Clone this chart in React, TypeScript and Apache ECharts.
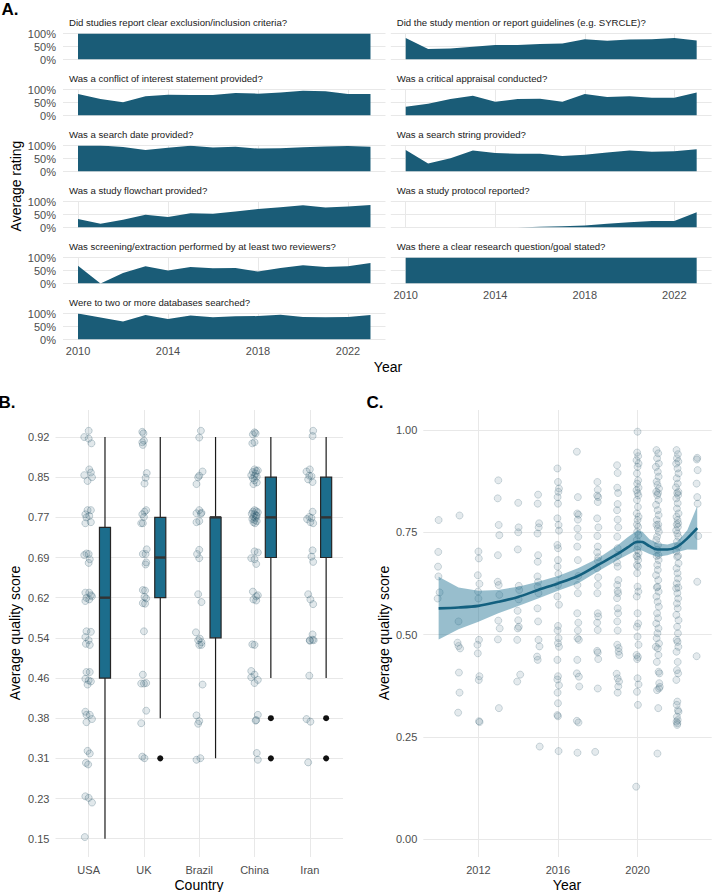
import React, { useEffect, useRef } from "react";
import * as echarts from "echarts";

const FONT = "'Liberation Sans', Arial, Helvetica, sans-serif";

// ---------- Panel A ----------
const years = [2010, 2011, 2012, 2013, 2014, 2015, 2016, 2017, 2018, 2019, 2020, 2021, 2022, 2023];
const yearTicks = [2010, 2014, 2018, 2022];
const percentTicks = [0, 0.5, 1];

const leftTitles = [
  "Did studies report clear exclusion/inclusion criteria?",
  "Was a conflict of interest statement provided?",
  "Was a search date provided?",
  "Was a study flowchart provided?",
  "Was screening/extraction performed by at least two reviewers?",
  "Were to two or more databases searched?",
];
const rightTitles = [
  "Did the study mention or report guidelines (e.g. SYRCLE)?",
  "Was a critical appraisal conducted?",
  "Was a search string provided?",
  "Was a study protocol reported?",
  "Was there a clear research question/goal stated?",
];

const exclusionCriteria = [1, 1, 1, 1, 1, 1, 1, 1, 1, 1, 1, 1, 1, 1];
const conflictOfInterest = [0.83, 0.63, 0.51, 0.74, 0.8, 0.79, 0.79, 0.87, 0.84, 0.88, 0.95, 0.93, 0.83, 0.83];
const searchDate = [1.0, 1.0, 0.94, 0.83, 0.91, 0.99, 0.92, 0.95, 0.88, 0.89, 0.93, 0.96, 0.98, 0.95];
const studyFlowchart = [0.33, 0.14, 0.3, 0.49, 0.4, 0.55, 0.53, 0.62, 0.71, 0.78, 0.86, 0.77, 0.81, 0.87];
const twoReviewers = [0.68, 0.0, 0.4, 0.66, 0.5, 0.63, 0.59, 0.6, 0.46, 0.6, 0.7, 0.63, 0.66, 0.79];
const twoDatabases = [1.0, 0.85, 0.69, 0.94, 0.79, 0.92, 0.86, 0.89, 0.9, 0.95, 0.87, 0.86, 0.87, 0.94];
const reportGuidelines = [0.83, 0.4, 0.42, 0.49, 0.56, 0.56, 0.6, 0.62, 0.78, 0.72, 0.77, 0.78, 0.83, 0.73];
const criticalAppraisal = [0.34, 0.45, 0.63, 0.76, 0.53, 0.63, 0.64, 0.53, 0.83, 0.71, 0.74, 0.68, 0.68, 0.88];
const searchString = [0.83, 0.31, 0.51, 0.81, 0.71, 0.68, 0.68, 0.6, 0.64, 0.73, 0.81, 0.76, 0.78, 0.86];
const studyProtocol = [0, 0, 0, 0, 0, 0, 0.03, 0.05, 0.08, 0.14, 0.2, 0.25, 0.25, 0.59];
const researchQuestion = [1, 1, 1, 1, 1, 1, 1, 1, 1, 1, 1, 1, 1, 1];

const leftValues = [exclusionCriteria, conflictOfInterest, searchDate, studyFlowchart, twoReviewers, twoDatabases];
const rightValues = [reportGuidelines, criticalAppraisal, searchString, studyProtocol, researchQuestion];

// ---------- Panel B ----------
const countries = ["USA", "UK", "Brazil", "China", "Iran"];
const scoreTicks = [0.1538, 0.2308, 0.3077, 0.3846, 0.4615, 0.5385, 0.6154, 0.6923, 0.7692, 0.8462, 0.9231];
const boxLow = [0.1538, 0.3846, 0.3077, 0.4615, 0.4615];
const boxQ1 = [0.4615, 0.6154, 0.5385, 0.6923, 0.6923];
const boxMedian = [0.6154, 0.6923, 0.7692, 0.7692, 0.7692];
const boxQ3 = [0.75, 0.7692, 0.7692, 0.8462, 0.8462];
const boxHigh = [0.9231, 0.9231, 0.9231, 0.9231, 0.9231];
const outlierCountry = [1, 3, 3, 4, 4];
const outlierScore = [0.3077, 0.3846, 0.3077, 0.3846, 0.3077];

// [jitter offset in category units, score]
const usaPoints = [
  [0.0, 0.935], [-0.08, 0.923], [0.0, 0.92], [0.05, 0.911],
  [0.01, 0.861], [0.04, 0.855], [-0.08, 0.85], [0.06, 0.846], [-0.02, 0.839],
  [-0.02, 0.783], [0.04, 0.783], [-0.06, 0.775], [0.01, 0.772], [-0.04, 0.769], [-0.06, 0.758], [0.04, 0.76],
  [-0.04, 0.7], [0.0, 0.699], [-0.08, 0.697], [0.02, 0.689], [0.0, 0.682],
  [-0.06, 0.625], [0.01, 0.625], [0.06, 0.618], [-0.04, 0.615], [0.01, 0.612], [-0.06, 0.609], [0.04, 0.62],
  [-0.04, 0.551], [0.04, 0.55], [-0.06, 0.54], [0.0, 0.534], [-0.05, 0.527], [0.02, 0.525],
  [-0.04, 0.473], [0.02, 0.473], [-0.06, 0.46], [0.0, 0.457], [0.04, 0.455], [-0.02, 0.449],
  [-0.06, 0.397], [-0.04, 0.391], [0.02, 0.391], [0.06, 0.383], [-0.04, 0.377],
  [-0.02, 0.322], [0.02, 0.317], [-0.05, 0.299], [-0.01, 0.296],
  [-0.06, 0.235], [0.0, 0.232], [0.06, 0.223],
  [-0.07, 0.157],
];
const ukPoints = [
  [-0.03, 0.933], [-0.01, 0.93], [0.0, 0.916], [-0.03, 0.913], [-0.02, 0.908],
  [0.05, 0.854], [0.03, 0.845], [0.01, 0.834],
  [0.04, 0.783], [0.01, 0.78], [-0.03, 0.775], [0.0, 0.77], [-0.05, 0.758], [-0.02, 0.758],
  [0.05, 0.708], [-0.02, 0.699], [0.03, 0.699], [0.04, 0.683], [0.03, 0.679],
  [-0.02, 0.63], [0.02, 0.629], [0.04, 0.614], [0.01, 0.617], [-0.02, 0.605], [0.02, 0.604],
  [0.0, 0.551],
  [-0.02, 0.468], [-0.05, 0.451], [0.0, 0.451], [0.04, 0.452],
  [0.04, 0.399], [-0.05, 0.375],
  [-0.03, 0.311], [0.01, 0.308],
];
const brazilPoints = [
  [0.03, 0.935], [0.0, 0.922],
  [0.06, 0.857], [0.0, 0.849], [-0.02, 0.846], [-0.05, 0.833],
  [0.0, 0.783], [0.04, 0.778], [-0.05, 0.777], [0.03, 0.776], [0.0, 0.762], [-0.05, 0.76],
  [0.0, 0.707], [-0.04, 0.699], [0.0, 0.691],
  [-0.02, 0.622], [0.04, 0.607],
  [-0.06, 0.549], [0.01, 0.537], [0.04, 0.53], [0.0, 0.525], [-0.02, 0.534], [0.04, 0.525],
  [0.06, 0.449],
  [-0.05, 0.39], [0.0, 0.379], [-0.02, 0.374],
  [0.02, 0.308], [-0.05, 0.305],
];
const chinaPoints = [
  [0.0, 0.932], [-0.03, 0.928], [0.02, 0.93], [-0.04, 0.911], [0.0, 0.913],
  [0.0, 0.861], [0.03, 0.858], [-0.03, 0.856], [0.06, 0.859], [-0.06, 0.85], [0.0, 0.848], [0.04, 0.847],
  [-0.03, 0.844], [0.0, 0.84], [0.04, 0.836], [-0.02, 0.833], [0.02, 0.853],
  [0.0, 0.783], [0.03, 0.781], [-0.03, 0.78], [0.06, 0.779], [-0.05, 0.776], [0.0, 0.775], [0.04, 0.772],
  [-0.02, 0.77], [0.02, 0.768], [-0.04, 0.766], [0.0, 0.764], [0.04, 0.762], [-0.02, 0.76], [0.01, 0.758], [0.03, 0.773],
  [0.0, 0.704], [0.06, 0.702], [-0.06, 0.691], [0.0, 0.689], [0.03, 0.68],
  [-0.03, 0.627], [0.03, 0.618], [0.06, 0.62], [-0.02, 0.612], [0.03, 0.61],
  [0.0, 0.525], [-0.04, 0.526],
  [-0.06, 0.475], [0.0, 0.468], [-0.06, 0.463], [0.06, 0.458], [0.0, 0.452],
  [0.06, 0.391], [0.03, 0.381], [0.02, 0.38],
  [0.04, 0.318], [0.06, 0.305],
];
const iranPoints = [
  [0.06, 0.935], [0.05, 0.925],
  [0.0, 0.861], [-0.06, 0.857], [-0.01, 0.849], [0.03, 0.848], [-0.03, 0.842], [0.05, 0.837],
  [0.05, 0.78], [-0.01, 0.77], [0.03, 0.768], [-0.05, 0.766], [0.01, 0.76], [0.06, 0.758],
  [0.05, 0.706], [0.03, 0.694], [0.06, 0.684],
  [-0.03, 0.622], [0.01, 0.612], [0.06, 0.603],
  [0.05, 0.545], [0.0, 0.533], [0.05, 0.535], [0.0, 0.534], [0.07, 0.534],
  [-0.01, 0.466],
  [-0.06, 0.383], [0.01, 0.378],
  [-0.03, 0.3],
];
const countryPoints = [usaPoints, ukPoints, brazilPoints, chinaPoints, iranPoints];

// ---------- Panel C ----------
const yearTicksC = [2012, 2016, 2020];
const qualityTicksC = [0, 0.25, 0.5, 0.75, 1];

// [year (jittered), average quality score]
const qualityByYear = [
  [2010.0, 0.78], [2009.98, 0.702], [2009.97, 0.666], [2009.99, 0.642], [2010.05, 0.603], [2009.95, 0.588],
  [2011.05, 0.791], [2011.0, 0.532], [2010.95, 0.48], [2011.08, 0.466], [2011.0, 0.472], [2011.02, 0.407], [2011.05, 0.358], [2010.98, 0.309],
  [2012.0, 0.703], [2012.02, 0.686], [2011.97, 0.645], [2012.05, 0.624], [2011.98, 0.605], [2012.0, 0.588], [2012.03, 0.487],
  [2011.95, 0.475], [2011.97, 0.454], [2012.05, 0.398], [2012.02, 0.389], [2012.03, 0.288], [2012.06, 0.286],
  [2013.0, 0.877], [2012.97, 0.833], [2013.02, 0.768], [2013.05, 0.743], [2012.98, 0.694], [2012.97, 0.629], [2013.02, 0.621],
  [2013.05, 0.597], [2013.0, 0.534], [2013.07, 0.515], [2012.98, 0.488], [2013.03, 0.32],
  [2014.0, 0.822], [2014.02, 0.762], [2014.0, 0.75], [2013.98, 0.708], [2014.03, 0.619], [2014.05, 0.609], [2014.02, 0.586],
  [2013.97, 0.558], [2014.0, 0.535], [2014.03, 0.519], [2013.98, 0.515], [2013.95, 0.487], [2014.1, 0.402], [2013.95, 0.385],
  [2015.0, 0.842], [2014.98, 0.82], [2015.05, 0.772], [2015.03, 0.762], [2014.97, 0.747], [2015.0, 0.694], [2014.98, 0.678],
  [2014.97, 0.642], [2015.0, 0.629], [2014.98, 0.617], [2015.02, 0.601], [2014.97, 0.564], [2015.0, 0.532], [2015.02, 0.487],
  [2015.07, 0.471], [2014.95, 0.446], [2014.98, 0.438], [2015.08, 0.226],
  [2015.97, 0.906], [2016.0, 0.873], [2016.05, 0.857], [2016.02, 0.849], [2015.98, 0.836], [2016.0, 0.82], [2015.97, 0.784],
  [2016.03, 0.768], [2016.05, 0.754], [2015.97, 0.719], [2016.0, 0.711], [2016.0, 0.682], [2015.98, 0.666], [2016.02, 0.648],
  [2016.0, 0.621], [2015.97, 0.593], [2016.05, 0.573], [2016.0, 0.521], [2015.98, 0.51], [2016.03, 0.491], [2016.0, 0.479],
  [2016.05, 0.47], [2015.97, 0.438], [2016.0, 0.398], [2015.97, 0.39], [2016.05, 0.376], [2015.98, 0.358], [2016.0, 0.332],
  [2015.97, 0.303], [2016.0, 0.3], [2016.03, 0.215],
  [2016.95, 0.947], [2017.0, 0.836], [2016.97, 0.796], [2017.03, 0.793], [2017.0, 0.781], [2016.98, 0.759], [2017.02, 0.739],
  [2016.97, 0.715], [2017.0, 0.682], [2017.02, 0.643], [2016.98, 0.621], [2017.0, 0.601], [2016.97, 0.552], [2017.02, 0.529],
  [2017.0, 0.51], [2016.98, 0.491], [2017.05, 0.487], [2016.97, 0.438], [2016.95, 0.405], [2017.05, 0.397], [2017.07, 0.373],
  [2016.95, 0.289], [2017.03, 0.285], [2016.98, 0.211],
  [2017.98, 0.873], [2018.0, 0.854], [2017.97, 0.84], [2018.02, 0.836], [2018.0, 0.824], [2017.97, 0.784], [2018.03, 0.762],
  [2017.98, 0.741], [2018.0, 0.715], [2017.97, 0.701], [2018.02, 0.689], [2018.0, 0.681], [2017.97, 0.662], [2018.02, 0.64],
  [2018.0, 0.621], [2017.98, 0.601], [2018.0, 0.552], [2018.02, 0.544], [2017.97, 0.529], [2018.0, 0.511], [2018.0, 0.456],
  [2017.97, 0.46], [2018.02, 0.44], [2018.0, 0.368], [2017.87, 0.213],
  [2018.97, 0.914], [2019.0, 0.895], [2018.98, 0.859], [2019.02, 0.846], [2019.0, 0.819], [2018.97, 0.804], [2019.0, 0.781],
  [2019.03, 0.762], [2018.98, 0.739], [2019.0, 0.711], [2019.02, 0.694], [2018.97, 0.676], [2019.0, 0.666], [2019.03, 0.633],
  [2018.98, 0.621], [2019.0, 0.607], [2019.02, 0.601], [2018.97, 0.589], [2019.0, 0.564], [2019.02, 0.552], [2018.98, 0.532],
  [2019.0, 0.51], [2019.05, 0.467], [2018.98, 0.475], [2019.05, 0.458], [2019.08, 0.45], [2018.95, 0.404], [2019.0, 0.393],
  [2019.07, 0.385], [2019.03, 0.373], [2019.0, 0.358],
  [2020.0, 0.996], [2019.98, 0.945], [2020.03, 0.936], [2019.95, 0.926], [2020.05, 0.918], [2020.0, 0.91], [2019.97, 0.894],
  [2020.03, 0.877], [2019.98, 0.869], [2020.05, 0.859], [2019.95, 0.853], [2020.0, 0.846], [2020.04, 0.84], [2019.97, 0.829],
  [2020.02, 0.812], [2019.96, 0.796], [2020.05, 0.788], [2020.0, 0.78], [2019.97, 0.769], [2020.03, 0.763], [2019.98, 0.751],
  [2020.04, 0.743], [2019.96, 0.731], [2020.02, 0.715], [2019.98, 0.707], [2020.05, 0.699], [2019.95, 0.692], [2020.0, 0.69],
  [2020.03, 0.682], [2019.97, 0.67], [2020.02, 0.666], [2019.98, 0.65], [2020.0, 0.617], [2020.04, 0.605], [2019.96, 0.593],
  [2020.0, 0.552], [2020.03, 0.527], [2019.97, 0.519], [2020.0, 0.495], [2020.05, 0.475], [2019.95, 0.45], [2020.02, 0.445],
  [2019.98, 0.44], [2020.0, 0.393], [2020.05, 0.378], [2019.97, 0.36], [2020.02, 0.328], [2019.93, 0.128],
  [2020.95, 0.951], [2021.04, 0.943], [2020.98, 0.931], [2021.07, 0.918], [2020.92, 0.91], [2021.02, 0.898], [2021.06, 0.886],
  [2020.96, 0.874], [2021.0, 0.866], [2021.08, 0.857], [2020.94, 0.849], [2021.03, 0.846], [2020.99, 0.841], [2021.05, 0.829],
  [2020.93, 0.817], [2021.01, 0.804], [2021.06, 0.792], [2020.97, 0.78], [2021.04, 0.769], [2020.95, 0.768], [2021.02, 0.76],
  [2021.07, 0.751], [2020.98, 0.739], [2020.94, 0.731], [2021.03, 0.719], [2021.0, 0.707], [2021.05, 0.694], [2020.96, 0.692],
  [2021.06, 0.682], [2020.99, 0.67], [2021.02, 0.658], [2020.93, 0.645], [2021.04, 0.633], [2021.0, 0.617], [2020.97, 0.615],
  [2021.06, 0.605], [2020.95, 0.593], [2021.01, 0.58], [2021.07, 0.568], [2020.98, 0.552], [2021.03, 0.54], [2020.94, 0.527],
  [2021.05, 0.515], [2021.0, 0.503], [2020.96, 0.491], [2021.08, 0.478], [2020.92, 0.47], [2021.02, 0.466], [2021.05, 0.45],
  [2020.97, 0.433], [2021.06, 0.409], [2021.1, 0.405], [2021.09, 0.381], [2021.12, 0.372], [2021.08, 0.368], [2020.98, 0.364],
  [2021.04, 0.32], [2021.0, 0.209],
  [2021.96, 0.951], [2022.03, 0.941], [2021.98, 0.931], [2022.05, 0.923], [2021.94, 0.918], [2022.01, 0.906], [2022.06, 0.894],
  [2021.97, 0.882], [2022.02, 0.869], [2021.93, 0.86], [2022.05, 0.849], [2021.99, 0.846], [2022.04, 0.841], [2021.95, 0.833],
  [2022.02, 0.821], [2021.98, 0.808], [2022.06, 0.796], [2021.96, 0.788], [2022.01, 0.78], [2022.04, 0.772], [2021.97, 0.769],
  [2022.03, 0.763], [2021.94, 0.755], [2022.0, 0.747], [2022.05, 0.739], [2021.98, 0.727], [2022.02, 0.715], [2021.95, 0.703],
  [2022.04, 0.692], [2021.99, 0.69], [2022.06, 0.674], [2021.96, 0.662], [2022.01, 0.65], [2022.03, 0.637], [2021.97, 0.625],
  [2022.05, 0.615], [2021.94, 0.613], [2022.0, 0.601], [2022.04, 0.588], [2021.98, 0.576], [2022.02, 0.564], [2021.95, 0.548],
  [2022.06, 0.535], [2021.99, 0.519], [2022.03, 0.503], [2021.97, 0.487], [2022.01, 0.482], [2022.05, 0.47], [2021.96, 0.458],
  [2022.02, 0.433], [2021.98, 0.413], [2022.04, 0.405], [2021.95, 0.389], [2022.0, 0.336], [2021.97, 0.328], [2022.03, 0.315],
  [2022.06, 0.311], [2021.98, 0.299], [2022.02, 0.291], [2021.96, 0.287], [2022.0, 0.283], [2021.99, 0.279],
  [2023.0, 0.932], [2022.98, 0.928], [2023.02, 0.902], [2022.97, 0.869], [2023.0, 0.836], [2023.02, 0.82], [2023.05, 0.741],
  [2023.0, 0.629], [2022.97, 0.447],
];

const fitYears = [2010, 2011, 2012, 2013, 2014, 2015, 2016, 2017, 2018, 2019, 2019.5, 2020, 2020.25, 2020.6, 2021, 2021.5, 2022, 2022.5, 2023];
const fitValues = [0.564, 0.566, 0.57, 0.58, 0.592, 0.609, 0.625, 0.643, 0.67, 0.697, 0.713, 0.727, 0.726, 0.716, 0.708, 0.708, 0.715, 0.735, 0.76];
const fitUpper = [0.641, 0.615, 0.607, 0.609, 0.617, 0.629, 0.643, 0.662, 0.686, 0.718, 0.738, 0.755, 0.751, 0.733, 0.723, 0.72, 0.727, 0.755, 0.814];
const fitLower = [0.488, 0.513, 0.531, 0.552, 0.57, 0.588, 0.607, 0.625, 0.654, 0.682, 0.695, 0.707, 0.705, 0.697, 0.69, 0.694, 0.702, 0.708, 0.707];

// ---------- styles ----------
const AREA_COLOR = "#1a5c77";
const GRID_COLOR = "#e8e8e8";
const AXIS_TEXT = "#4d4d4d";
const BOX_FILL = "#1c6d8c";
const BOX_OFFSET = 0.295;
const BOX_HALF = 0.1;

function text(t: string, x: number, y: number, o: any = {}) {
  return {
    type: "text",
    x,
    y,
    rotation: o.rotation || 0,
    silent: true,
    style: {
      text: t,
      fontSize: o.size || 14,
      fontFamily: FONT,
      fontWeight: o.bold ? "bold" : "normal",
      fill: o.color || "#000",
      align: o.align || "center",
      verticalAlign: "middle",
      textAlign: o.align || "center",
      textVerticalAlign: "middle",
    },
  };
}

function buildOption() {
  const grid: any[] = [];
  const xAxis: any[] = [];
  const yAxis: any[] = [];
  const series: any[] = [];
  const graphic: any[] = [];

  const panelTops = [33.5, 89.5, 145.5, 201.5, 257.5, 313.5];
  const panelH = 26;

  const addAreaPanel = (
    values: number[],
    title: string,
    left: number,
    width: number,
    top: number,
    showX: boolean,
    showY: boolean,
    titleX: number
  ) => {
    const idx = grid.length;
    grid.push({ left, top, width, height: panelH, containLabel: false, outerBoundsMode: "none" });
    xAxis.push({
      type: "value",
      gridIndex: idx,
      min: 2009.333,
      max: 2023.667,
      axisLine: { show: false },
      axisTick: { show: false, customValues: yearTicks },
      axisLabel: {
        show: showX,
        customValues: yearTicks,
        formatter: (v: number) => String(Math.round(v)),
        color: AXIS_TEXT,
        fontSize: 11,
        fontFamily: FONT,
        margin: 6,
      },
      splitLine: { show: true, lineStyle: { color: GRID_COLOR, width: 1 } },
    });
    yAxis.push({
      type: "value",
      gridIndex: idx,
      min: 0,
      max: 1,
      axisLine: { show: false },
      axisTick: { show: false, customValues: percentTicks },
      axisLabel: {
        show: showY,
        customValues: percentTicks,
        formatter: (v: number) => Math.round(v * 100) + "%",
        color: AXIS_TEXT,
        fontSize: 11,
        fontFamily: FONT,
        margin: 7,
      },
      splitLine: { show: true, lineStyle: { color: GRID_COLOR, width: 1 } },
    });
    series.push({
      type: "line",
      xAxisIndex: idx,
      yAxisIndex: idx,
      data: years.map((yr, j) => [yr, values[j]]),
      symbol: "none",
      showSymbol: false,
      silent: true,
      lineStyle: { width: 0, color: AREA_COLOR },
      areaStyle: { color: AREA_COLOR, opacity: 1 },
    });
    graphic.push(text(title, titleX, top - 10.8, { size: 9.6, color: "#1a1a1a", align: "left" }));
  };

  leftValues.forEach((vals, i) =>
    addAreaPanel(vals, leftTitles[i], 63, 322.5, panelTops[i], i === leftValues.length - 1, true, 69)
  );
  rightValues.forEach((vals, i) =>
    addAreaPanel(vals, rightTitles[i], 390.8, 320.8, panelTops[i], i === rightValues.length - 1, false, 396.7)
  );

  // ---------- Panel B ----------
  const bIdx = grid.length;
  grid.push({ left: 55.5, top: 410, width: 287.5, height: 447, containLabel: false, outerBoundsMode: "none" });
  xAxis.push({
    type: "value",
    gridIndex: bIdx,
    min: -0.6,
    max: 4.6,
    axisLine: { show: false },
    axisTick: { show: false, customValues: [0, 1, 2, 3, 4] },
    axisLabel: {
      customValues: [0, 1, 2, 3, 4],
      formatter: (v: number) => countries[Math.round(v)],
      color: AXIS_TEXT,
      fontSize: 11,
      fontFamily: FONT,
      margin: 7,
    },
    splitLine: { show: true, lineStyle: { color: GRID_COLOR, width: 1 } },
  });
  yAxis.push({
    type: "value",
    gridIndex: bIdx,
    min: 0.1188,
    max: 0.9748,
    axisLine: { show: false },
    axisTick: { show: false, customValues: scoreTicks },
    axisLabel: {
      customValues: scoreTicks,
      formatter: (v: number) => v.toFixed(2),
      color: AXIS_TEXT,
      fontSize: 11,
      fontFamily: FONT,
      margin: 6,
    },
    splitLine: { show: true, lineStyle: { color: GRID_COLOR, width: 1 } },
  });
  series.push({
    type: "scatter",
    xAxisIndex: bIdx,
    yAxisIndex: bIdx,
    silent: true,
    symbolSize: 7,
    data: countryPoints.flatMap((pts, ci) => pts.map(([dx, v]) => [ci + dx, v])),
    itemStyle: { color: "rgba(70,110,130,0.2)", borderColor: "rgba(30,75,95,0.38)", borderWidth: 0.8 },
    z: 2,
  });
  series.push({
    type: "custom",
    xAxisIndex: bIdx,
    yAxisIndex: bIdx,
    silent: true,
    z: 3,
    data: countries.map((_, ci) => [ci, boxLow[ci], boxQ1[ci], boxMedian[ci], boxQ3[ci], boxHigh[ci]]),
    encode: { x: 0, y: [1, 2, 3, 4, 5] },
    renderItem: (params: any, api: any) => {
      const xc = api.value(0) + BOX_OFFSET;
      const lo = api.coord([xc, api.value(1)]);
      const hi = api.coord([xc, api.value(5)]);
      const q1 = api.coord([xc - BOX_HALF, api.value(2)]);
      const q3 = api.coord([xc + BOX_HALF, api.value(4)]);
      const mL = api.coord([xc - BOX_HALF, api.value(3)]);
      const mR = api.coord([xc + BOX_HALF, api.value(3)]);
      return {
        type: "group",
        children: [
          { type: "line", shape: { x1: lo[0], y1: lo[1], x2: hi[0], y2: hi[1] }, style: { stroke: "#1a1a1a", lineWidth: 1.2 } },
          {
            type: "rect",
            shape: { x: q1[0], y: q3[1], width: q3[0] - q1[0], height: q1[1] - q3[1] },
            style: { fill: BOX_FILL, stroke: "#262626", lineWidth: 1.2 },
          },
          { type: "line", shape: { x1: mL[0], y1: mL[1], x2: mR[0], y2: mR[1] }, style: { stroke: "#333", lineWidth: 2.4 } },
        ],
      };
    },
  });
  series.push({
    type: "scatter",
    xAxisIndex: bIdx,
    yAxisIndex: bIdx,
    silent: true,
    symbolSize: 6,
    z: 4,
    data: outlierCountry.map((ci, k) => [ci + BOX_OFFSET, outlierScore[k]]),
    itemStyle: { color: "#111111", opacity: 1 },
  });

  // ---------- Panel C ----------
  const cIdx = grid.length;
  grid.push({ left: 423.3, top: 410, width: 288.4, height: 447, containLabel: false, outerBoundsMode: "none" });
  xAxis.push({
    type: "value",
    gridIndex: cIdx,
    min: 2009.229,
    max: 2023.728,
    axisLine: { show: false },
    axisTick: { show: false, customValues: yearTicksC },
    axisLabel: {
      customValues: yearTicksC,
      formatter: (v: number) => String(Math.round(v)),
      color: AXIS_TEXT,
      fontSize: 11,
      fontFamily: FONT,
      margin: 7,
    },
    splitLine: { show: true, lineStyle: { color: GRID_COLOR, width: 1 } },
  });
  yAxis.push({
    type: "value",
    gridIndex: cIdx,
    min: -0.044,
    max: 1.049,
    axisLine: { show: false },
    axisTick: { show: false, customValues: qualityTicksC },
    axisLabel: {
      customValues: qualityTicksC,
      formatter: (v: number) => v.toFixed(2),
      color: AXIS_TEXT,
      fontSize: 11,
      fontFamily: FONT,
      margin: 6,
    },
    splitLine: { show: true, lineStyle: { color: GRID_COLOR, width: 1 } },
  });
  series.push({
    type: "scatter",
    xAxisIndex: cIdx,
    yAxisIndex: cIdx,
    silent: true,
    symbolSize: 7,
    data: qualityByYear,
    itemStyle: { color: "rgba(70,110,130,0.18)", borderColor: "rgba(30,75,95,0.32)", borderWidth: 0.8 },
    z: 2,
  });
  series.push({
    type: "custom",
    xAxisIndex: cIdx,
    yAxisIndex: cIdx,
    silent: true,
    z: 3,
    data: [[fitYears[0], fitValues[0]]],
    renderItem: (params: any, api: any) => {
      const up = fitYears.map((yr, i) => api.coord([yr, fitUpper[i]]));
      const low = fitYears.map((yr, i) => api.coord([yr, fitLower[i]])).reverse();
      return {
        type: "polygon",
        shape: { points: up.concat(low) },
        style: { fill: "rgba(40,120,150,0.48)", stroke: "none" },
      };
    },
  });
  series.push({
    type: "line",
    xAxisIndex: cIdx,
    yAxisIndex: cIdx,
    silent: true,
    z: 4,
    data: fitYears.map((yr, i) => [yr, fitValues[i]]),
    smooth: 0.3,
    symbol: "none",
    showSymbol: false,
    lineStyle: { color: "#13607f", width: 2.6 },
  });

  // ---------- titles ----------
  graphic.push(text("A.", 10, 9, { size: 17, bold: true }));
  graphic.push(text("B.", 7, 402, { size: 17, bold: true }));
  graphic.push(text("C.", 375, 402, { size: 17, bold: true }));
  graphic.push(text("Average rating", 15.5, 186, { rotation: Math.PI / 2 }));
  graphic.push(text("Year", 388, 367));
  graphic.push(text("Average quality score", 15, 633, { rotation: Math.PI / 2 }));
  graphic.push(text("Country", 199, 885));
  graphic.push(text("Average quality score", 384, 633, { rotation: Math.PI / 2 }));
  graphic.push(text("Year", 567, 885));

  return {
    animation: false,
    backgroundColor: "#ffffff",
    textStyle: { fontFamily: FONT },
    grid,
    xAxis,
    yAxis,
    series,
    graphic,
  };
}

export default function App() {
  const ref = useRef<HTMLDivElement>(null);
  useEffect(() => {
    if (!ref.current) return;
    const chart = echarts.init(ref.current, null, { renderer: "svg" });
    chart.setOption(buildOption() as any);
    return () => chart.dispose();
  }, []);
  return <div ref={ref} style={{ position: "fixed", left: 0, top: 0, width: 712, height: 892 }} />;
}
